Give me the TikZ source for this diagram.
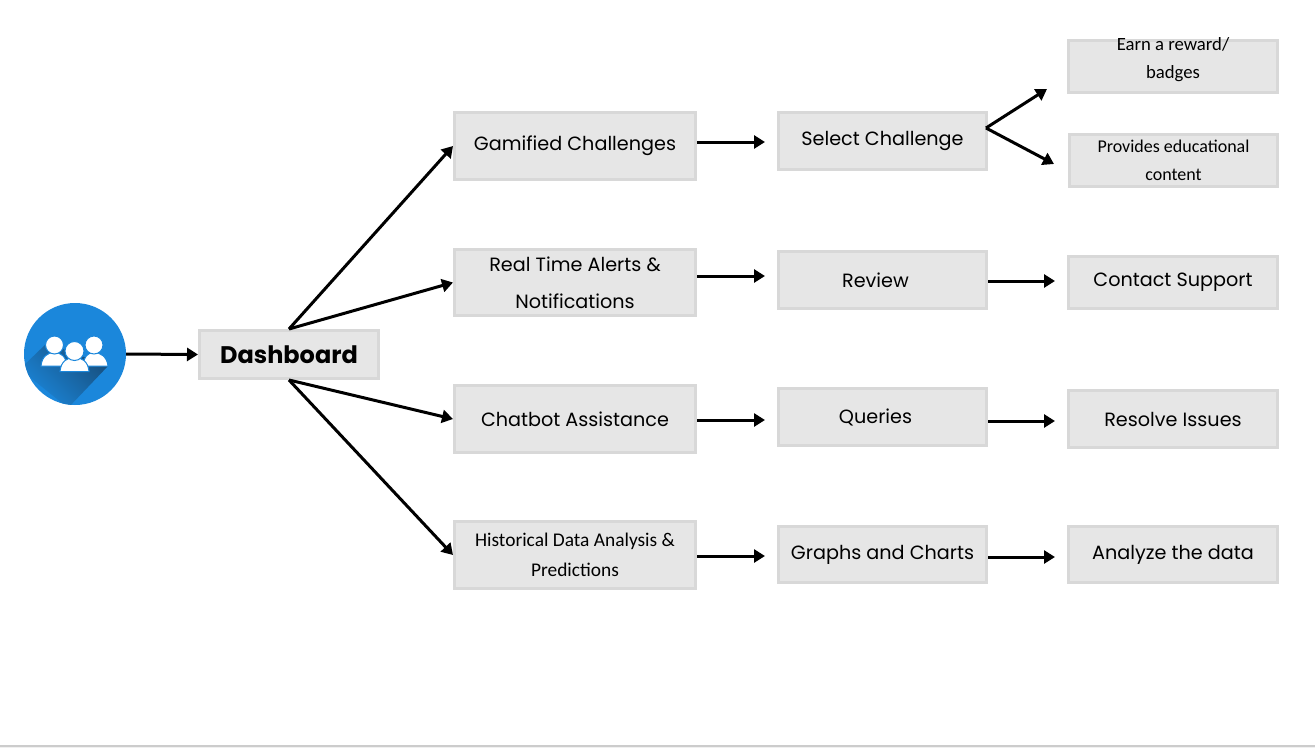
\documentclass[tikz,border=0pt]{standalone}
\usepackage{fontspec}
\setmainfont{Poppins}
\newfontfamily\calfont{Carlito}
\usetikzlibrary{arrows.meta,calc,shadings}
\definecolor{boxfill}{HTML}{E6E6E6}
\definecolor{boxline}{HTML}{D8D8D8}
\definecolor{iconblue}{HTML}{1B87DB}
\definecolor{icondark}{HTML}{174F7E}
\tikzset{
  x=1pt,y=-1pt,
  boxbase/.style={draw=boxline,fill=boxfill,line width=3pt,inner sep=0pt,align=center,text=black,anchor=center},
  big/.style={boxbase,font=\fontsize{19.2}{37}\selectfont},
  small/.style={boxbase,font=\calfont\fontsize{18}{28}\selectfont},
  conn/.style={draw=black,line width=3pt,-{Triangle[length=11pt,width=13pt]}},
  short/.style={conn,shorten >=12pt},
  person/.style={fill=white,draw=iconblue,line width=1pt},
}
\newcommand{\bx}[7][big]{% style, name, x0,y0,x1,y1, text
  \node[#1,minimum width=#5-#3-3,minimum height=#6-#4-3] (#2) at ({(#3+#5)/2},{(#4+#6)/2}) {#7};}
\newcommand{\dn}[2]{\raisebox{-#1pt}{#2}}
\begin{document}
\begin{tikzpicture}
\useasboundingbox (0,0) rectangle (1315,748);
\fill[white] (0,0) rectangle (1315,748);
\fill[black!20] (0,745) rectangle (1315,747);
\fill[black!6] (0,747) rectangle (1315,748);
% user icon
\node[circle,fill=iconblue,minimum size=102pt,inner sep=0pt] (user) at (75,354) {};
\begin{scope}
  \clip (75,354) circle[radius=51];
  \shade[bottom color=iconblue,top color=icondark,shading angle=-45]
    (20,369) -- (47,343) -- (108,366) -- (68,408) -- cycle;
\end{scope}
% people
\path[person] (41,366) .. controls (42,356) and (48,353) .. (54,352) .. controls (61,353) and (66,356) .. (67,366) -- cycle;
\path[person] (83,366) .. controls (84,356) and (88,353) .. (94,352) .. controls (100,353) and (107,356) .. (108,366) -- cycle;
\path[person] (94,345) circle[radius=9];
\path[person] (54.5,345) circle[radius=9];
\path[person] (60,371.5) .. controls (61,361) and (67,358) .. (74.5,357) .. controls (82,358) and (88,361) .. (89,371.5) -- cycle;
\path[person] (74.5,351) circle[radius=9.5];
% boxes
\bx[big,font=\fontsize{24}{30}\selectfont\bfseries]{dash}{198}{329}{380}{380}{Dashboard}
\bx{gam}{453}{111}{697}{181}{\dn{2.5}{Gamified Challenges}}
\bx{rt}{453}{248}{697}{317}{Real Time Alerts \&\\Notifications}
\bx{chat}{453}{384}{697}{454}{\dn{3}{Chatbot Assistance}}
\bx[small,font=\calfont\fontsize{19.4}{30}\selectfont]{hist}{453}{520}{697}{590}{Historical Data Analysis \&\\Predictions}
\bx{sel}{777}{111}{988}{171}{\dn{4}{Select Challenge}}
\bx{rev}{777}{250}{988}{310}{\hspace*{-14pt}\dn{3}{Review}}
\bx{que}{777}{387}{988}{447}{\hspace*{-14pt}\dn{2}{Queries}}
\bx{gra}{777}{525}{988}{584}{\dn{4}{Graphs and Charts}}
\bx[small,font=\calfont\fontsize{18.7}{28}\selectfont]{earn}{1067}{39}{1279}{94}{\\[-28pt]\rule{0pt}{0pt}Earn a reward/\\badges}
\bx[small]{prov}{1068}{133}{1279}{188}{Provides educational\\content}
\bx{con}{1067}{255}{1279}{310}{\dn{3}{Contact Support}}
\bx{res}{1067}{389}{1279}{449}{\dn{1}{Resolve Issues}}
\bx{ana}{1067}{525}{1279}{584}{\dn{3}{Analyze the data}}
% connectors
\draw[conn] (user.east) -- (dash.west);
\draw[conn] (dash.north) -- (gam.west);
\draw[conn] (dash.north) -- (rt.west);
\draw[conn] (dash.south) -- (chat.west);
\draw[conn] (dash.south) -- (hist.west);
\draw[short] ([yshift=4pt]gam.east) -- ([yshift=-1pt]sel.west);
\draw[short] ([yshift=6.5pt]rt.east) -- ([yshift=4pt]rev.west);
\draw[short] ([yshift=-1pt]chat.east) -- ([yshift=-3pt]que.west);
\draw[short] ([yshift=-1pt]hist.east) -- ([yshift=-1.5pt]gra.west);
\coordinate (fork) at ([xshift=-2pt,yshift=13pt]sel.east);
\coordinate (toearn) at ([xshift=-20pt,yshift=-22.5pt]earn.west);
\coordinate (toprov) at ([xshift=-14pt,yshift=-3.5pt]prov.west);
\draw[conn] (fork) -- (toearn);
\draw[conn] (fork) -- (toprov);
\draw[short] ([yshift=-1pt]rev.east) -- ([yshift=1.5pt]con.west);
\draw[short] ([yshift=-4pt]que.east) -- ([yshift=-2pt]res.west);
\draw[short] ([yshift=-2.5pt]gra.east) -- ([yshift=-2.5pt]ana.west);
\end{tikzpicture}
\end{document}
